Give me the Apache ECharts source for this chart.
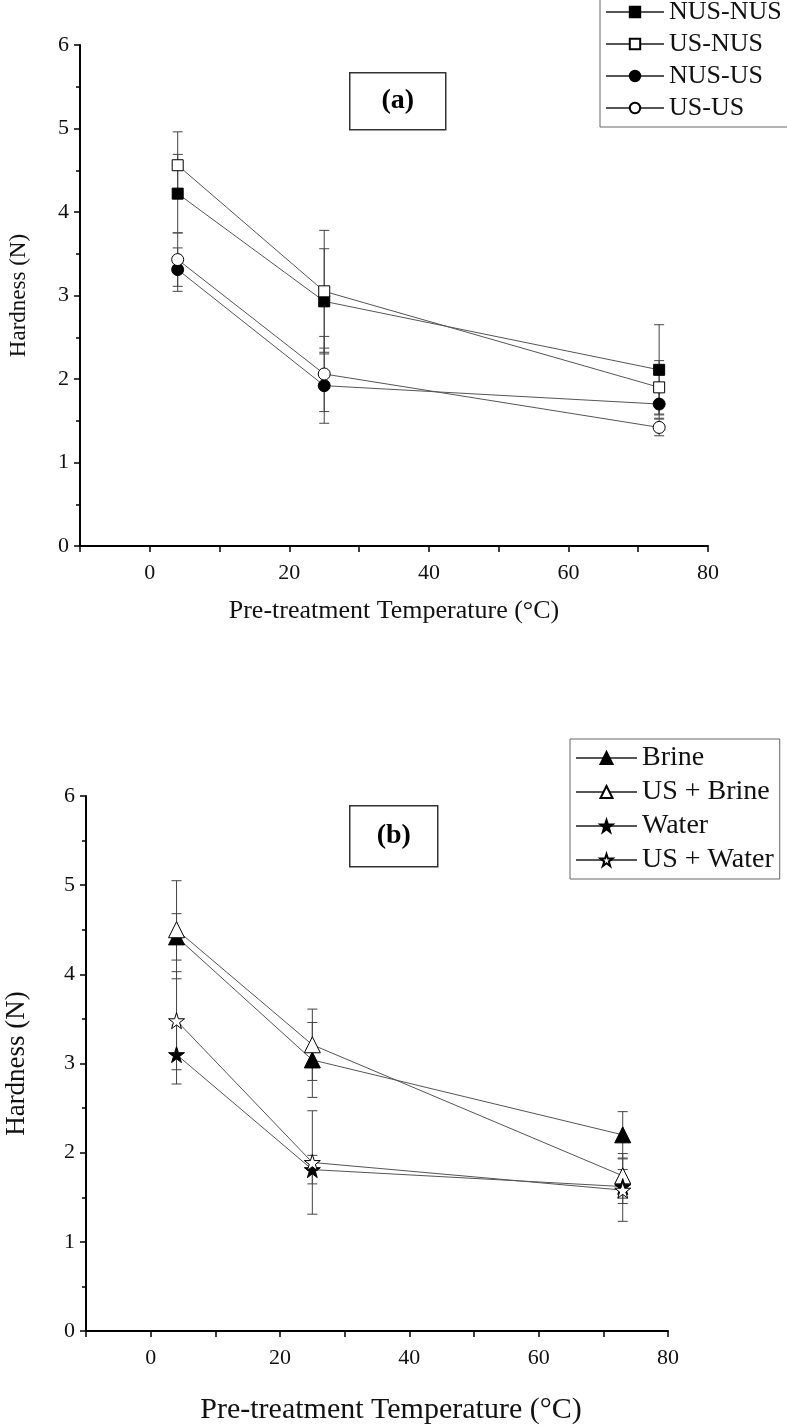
<!DOCTYPE html>
<html>
<head>
<meta charset="utf-8">
<script src="https://cdn.jsdelivr.net/npm/echarts@6/dist/echarts.min.js"></script>
<style>html,body{margin:0;padding:0;background:#fff}#c{width:787px;height:1428px}</style>
</head>
<body>
<div id="c"></div>
<script>
// ---- data ----
var temps = [4, 25, 73];
// panel (a)
var nusNus = [4.22, 2.93, 2.11];
var nusNusErr = [0.47, 0.63, 0.54];
var usNus = [4.56, 3.05, 1.90];
var usNusErr = [0.40, 0.73, 0.32];
var nusUs = [3.31, 1.92, 1.70];
var nusUsErr = [0.26, 0.45, 0.17];
var usUs = [3.43, 2.06, 1.42];
var usUsErr = [0.32, 0.45, 0.10];
// panel (b)
var brine = [4.42, 3.04, 2.20];
var brineErr = [0.26, 0.42, 0.26];
var usBrine = [4.50, 3.21, 1.74];
var usBrineErr = [0.55, 0.40, 0.25];
var water = [3.10, 1.81, 1.62];
var waterErr = [0.33, 0.16, 0.19];
var usWater = [3.48, 1.89, 1.58];
var usWaterErr = [0.55, 0.58, 0.35];

var namesA = ['NUS-NUS', 'US-NUS', 'NUS-US', 'US-US'];
var namesB = ['Brine', 'US + Brine', 'Water', 'US + Water'];
var yTicks = [0, 1, 2, 3, 4, 5, 6];
var xTicks = [0, 20, 40, 60, 80];

var STAR = 'path://M50,0 L61.8,35.3 L99,35.3 L69,57.3 L80.2,92.7 L50,70.9 L19.8,92.7 L31,57.3 L1,35.3 L38.2,35.3 Z';
var FONT = 'Liberation Serif';

function pairs(vals) { return temps.map(function (t, i) { return [t, vals[i]]; }); }
function errData(vals, errs) { return temps.map(function (t, i) { return [t, vals[i] - errs[i], vals[i] + errs[i]]; }); }

function errSeries(name, vals, errs, gi, capW) {
  return {
    type: 'custom', name: name + ' err', xAxisIndex: gi, yAxisIndex: gi, z: 1, silent: true,
    data: errData(vals, errs),
    encode: { x: 0, y: [1, 2] },
    renderItem: function (params, api) {
      var lo = api.coord([api.value(0), api.value(1)]);
      var hi = api.coord([api.value(0), api.value(2)]);
      var st = { stroke: '#444', lineWidth: 1 };
      return { type: 'group', children: [
        { type: 'line', shape: { x1: lo[0], y1: lo[1], x2: hi[0], y2: hi[1] }, style: st },
        { type: 'line', shape: { x1: lo[0] - capW, y1: lo[1], x2: lo[0] + capW, y2: lo[1] }, style: st },
        { type: 'line', shape: { x1: hi[0] - capW, y1: hi[1], x2: hi[0] + capW, y2: hi[1] }, style: st }
      ]};
    }
  };
}

function lineSeries(name, vals, gi, symbol, size, filled) {
  return {
    type: 'line', name: name, xAxisIndex: gi, yAxisIndex: gi, z: 3,
    data: pairs(vals), symbol: symbol, symbolSize: size, showAllSymbol: true,
    lineStyle: { color: '#555', width: 1 },
    itemStyle: { color: filled ? '#000' : '#fff', borderColor: '#000', borderWidth: 1 },
    emphasis: { disabled: true }
  };
}

function xAxis(gi, nameGap, fs, shift) {
  return {
    type: 'value', gridIndex: gi, min: -10, max: 80, interval: 10,
    name: 'Pre-treatment Temperature (°C)', nameLocation: 'middle', nameGap: nameGap,
    nameTextStyle: { fontFamily: FONT, fontSize: fs, color: '#111', padding: [0, 0, 0, shift] },
    axisLine: { show: true, onZero: false, lineStyle: { color: '#000', width: 2 } },
    axisTick: { show: true, inside: false, length: 6, lineStyle: { color: '#000', width: 1.5 } },
    axisLabel: { fontFamily: FONT, fontSize: 22, color: '#111', margin: 16,
      formatter: function (v) { return xTicks.indexOf(v) >= 0 ? String(v) : ''; } },
    splitLine: { show: false }
  };
}
function yAxis(gi, nameGap, fs) {
  return {
    type: 'value', gridIndex: gi, min: yTicks[0], max: yTicks[yTicks.length - 1], interval: 1,
    name: 'Hardness (N)', nameLocation: 'middle', nameGap: nameGap,
    nameTextStyle: { fontFamily: FONT, fontSize: fs, color: '#111' },
    axisLine: { show: true, onZero: false, lineStyle: { color: '#000', width: 2 } },
    axisTick: { show: true, inside: false, length: 6, lineStyle: { color: '#000', width: 1.5 } },
    minorTick: { show: true, splitNumber: 2, length: 4, lineStyle: { color: '#000', width: 1.5 } },
    axisLabel: { fontFamily: FONT, fontSize: 22, color: '#111', margin: 11 },
    splitLine: { show: false }
  };
}

function labelBox(label, x, y, w, h) {
  return {
    type: 'group', left: x, top: y, children: [
      { type: 'rect', shape: { x: 0, y: 0, width: w, height: h }, style: { fill: '#fff', stroke: '#333', lineWidth: 1.5 } },
      { type: 'text', x: w / 2, y: h / 2, style: { text: label, fontFamily: FONT, fontWeight: 'bold', fontSize: 28, fill: '#000', align: 'center', verticalAlign: 'middle' } }
    ]
  };
}

var chart = echarts.init(document.getElementById('c'), null, { renderer: 'canvas' });
chart.setOption({
  backgroundColor: '#fff',
  animation: false,
  grid: [
    { left: 80, top: 45, width: 628, height: 501, containLabel: false, outerBoundsMode: 'none' },
    { left: 86, top: 796, width: 582, height: 535, containLabel: false, outerBoundsMode: 'none' }
  ],
  xAxis: [xAxis(0, 52, 26, 0), xAxis(1, 64, 30, 28)],
  yAxis: [yAxis(0, 50, 23), yAxis(1, 56, 27)],
  legend: [
    { data: namesA, orient: 'vertical', left: 600, top: -7, itemWidth: 58, itemHeight: 13, itemGap: 6,
      padding: [6, 8, 6, 5], borderColor: '#666', borderWidth: 1, backgroundColor: '#fff',
      textStyle: { fontFamily: FONT, fontSize: 26, color: '#111' } },
    { data: namesB, orient: 'vertical', left: 570, top: 739, itemWidth: 61, itemHeight: 15, itemGap: 6,
      padding: [5, 6, 5, 5], borderColor: '#666', borderWidth: 1, backgroundColor: '#fff',
      textStyle: { fontFamily: FONT, fontSize: 28, color: '#111' } }
  ],
  graphic: [labelBox('(a)', 349, 72, 96, 57), labelBox('(b)', 349, 805, 88, 61)],
  series: [
    errSeries(namesA[0], nusNus, nusNusErr, 0, 5),
    errSeries(namesA[1], usNus, usNusErr, 0, 5),
    errSeries(namesA[2], nusUs, nusUsErr, 0, 5),
    errSeries(namesA[3], usUs, usUsErr, 0, 5),
    errSeries(namesB[0], brine, brineErr, 1, 5),
    errSeries(namesB[1], usBrine, usBrineErr, 1, 5),
    errSeries(namesB[2], water, waterErr, 1, 5),
    errSeries(namesB[3], usWater, usWaterErr, 1, 5),
    lineSeries(namesA[0], nusNus, 0, 'rect', 11, true),
    lineSeries(namesA[1], usNus, 0, 'rect', 11, false),
    lineSeries(namesA[2], nusUs, 0, 'circle', 12, true),
    lineSeries(namesA[3], usUs, 0, 'circle', 12, false),
    lineSeries(namesB[0], brine, 1, 'triangle', 16, true),
    lineSeries(namesB[1], usBrine, 1, 'triangle', 16, false),
    lineSeries(namesB[2], water, 1, STAR, 16, true),
    lineSeries(namesB[3], usWater, 1, STAR, 16, false)
  ]
});
</script>
</body>
</html>
